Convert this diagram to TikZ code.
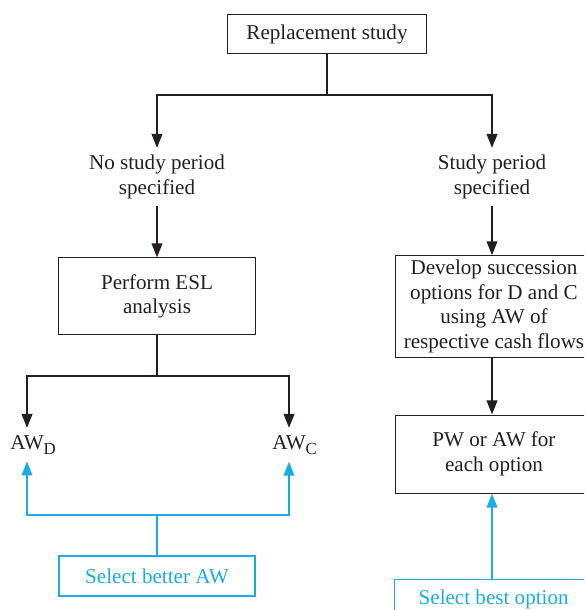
\documentclass[tikz,border=0pt]{standalone}
\usepackage{fontspec}
\setmainfont{Liberation Serif}
\usetikzlibrary{arrows.meta, positioning}
\definecolor{ink}{HTML}{231F20}
\definecolor{pick}{HTML}{1AADE4}
\newcommand{\subD}[1]{\rlap{\raisebox{-0.5ex}{\fontsize{12}{12}\selectfont #1}}}

\begin{document}
\begin{tikzpicture}[
    every node/.style={font=\fontsize{15}{17.5}\selectfont, text=ink},
    box/.style={draw=ink, line width=0.7pt, align=center, inner sep=3pt},
    pickbox/.style={draw=pick, line width=0.9pt, align=center, text=pick},
    plain/.style={align=center, inner xsep=2pt, inner ysep=5pt},
    line/.style={draw=ink, line width=1.5pt},
    arr/.style={line, -{Triangle[length=10pt, width=7.5pt]}},
    bluearr/.style={draw=pick, line width=1.5pt, -{Triangle[length=10pt, width=7.5pt]}}]
  % ── Page frame (584 x 610 px, cut at the right and bottom) ──────────────
  \clip (0,0) rectangle (14.6,15.25);

  % ── Top ─────────────────────────────────────────────────────────────────
  \node[box, minimum width=4.975cm, minimum height=0.975cm] (study) at (8.175,14.4) {Replacement study};
  \coordinate (split) at (8.175,12.875);

  % ── Left branch: no study period ────────────────────────────────────────
  \node[plain, anchor=north] (nosp) at (3.925,11.55) {No study period\\specified};
  \node[box, minimum width=4.925cm, minimum height=1.925cm] (esl) at (3.925,7.84) {Perform ESL\\analysis};
  \coordinate (esplit) at (3.925,5.85);
  \node[plain, anchor=north] (awd) at (0.675,4.55) {AW\subD{D}};
  \node[plain, anchor=north] (awc) at (7.225,4.55) {AW\subD{C}};
  \coordinate (bsplit) at (3.925,2.375);
  \node[pickbox, minimum width=4.9cm, minimum height=1.0cm] (better) at (3.925,0.85) {Select better AW};

  % ── Right branch: study period ──────────────────────────────────────────
  \node[plain, anchor=north] (sp) at (12.3,11.55) {Study period\\specified};
  \node[box, minimum width=4.95cm, minimum height=2.425cm] (succ) at (12.35,7.5875) {Develop succession\\options for D and C\\using AW of\\respective cash flows};
  \node[box, minimum width=4.95cm, minimum height=1.95cm] (pwaw) at (12.35,3.9) {PW or AW for\\each option};
  \node[pickbox, minimum width=4.95cm, minimum height=1.0cm, anchor=north west] (best) at (9.85,0.775) {Select best option};

  % ── Connectors ──────────────────────────────────────────────────────────
  \draw[line] (study.south) -- (split);
  \draw[arr] (split) -| (nosp.north);
  \draw[arr] (split) -| (sp.north);
  \draw[arr] (nosp.south) -- (esl.north);
  \draw[arr] (sp.south) -- (succ.north -| sp.south);
  \draw[arr] (succ.south -| sp.south) -- (pwaw.north -| sp.south);
  \draw[line] (esl.south) -- (esplit);
  \draw[arr] (esplit) -| (awd.north);
  \draw[arr] (esplit) -| (awc.north);

  % ── Selection (blue) ────────────────────────────────────────────────────
  \draw[draw=pick, line width=1.5pt] (better.north) -- (bsplit);
  \draw[bluearr] (bsplit) -| (awd.south);
  \draw[bluearr] (bsplit) -| (awc.south);
  \draw[bluearr] (best.north -| sp.south) -- (pwaw.south -| sp.south);
\end{tikzpicture}
\end{document}
